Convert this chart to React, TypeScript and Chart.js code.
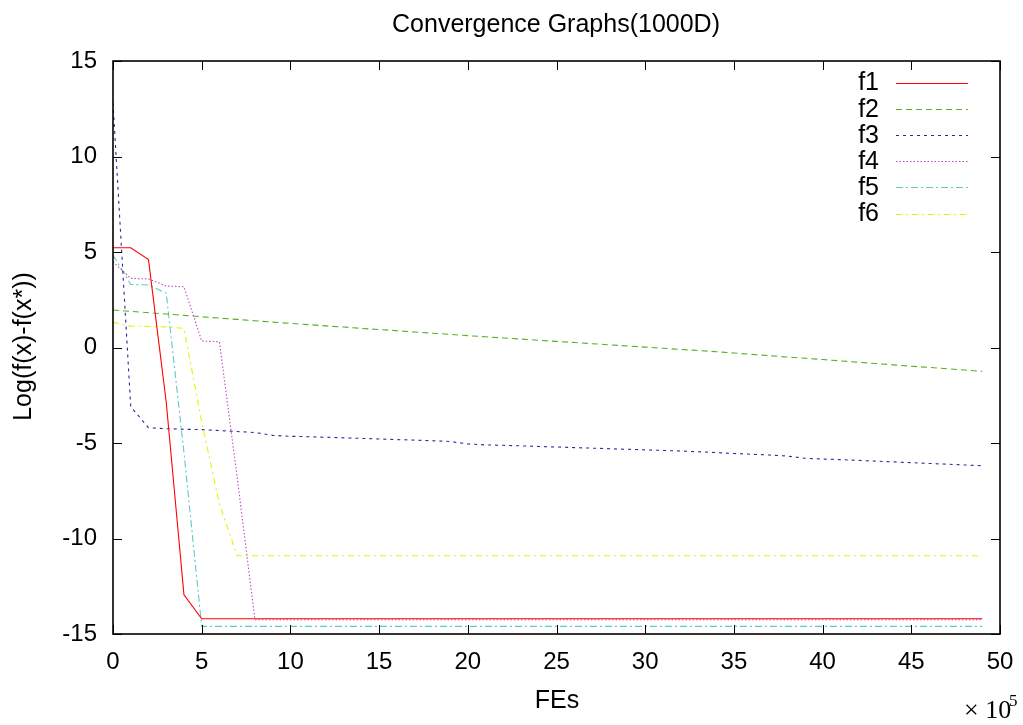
import React, { useEffect, useRef } from "react";
import { Chart, registerables } from "chart.js";

Chart.register(...registerables);

const FES = [
  0, 1, 2, 3, 4, 5, 6, 7, 8, 9,
  10, 11, 12, 13, 14, 15, 16, 17, 18, 19,
  20, 21, 22, 23, 24, 25, 26, 27, 28, 29,
  30, 31, 32, 33, 34, 35, 36, 37, 38, 39,
  40, 41, 42, 43, 44, 45, 46, 47, 48, 49,
];

const F1 = [
  5.22, 5.22, 4.6, -2.85, -12.95, -14.2, -14.2, -14.2, -14.2, -14.2,
  -14.2, -14.2, -14.2, -14.2, -14.2, -14.2, -14.2, -14.2, -14.2, -14.2,
  -14.2, -14.2, -14.2, -14.2, -14.2, -14.2, -14.2, -14.2, -14.2, -14.2,
  -14.2, -14.2, -14.2, -14.2, -14.2, -14.2, -14.2, -14.2, -14.2, -14.2,
  -14.2, -14.2, -14.2, -14.2, -14.2, -14.2, -14.2, -14.2, -14.2, -14.2,
];

const F2 = [
  1.96, 1.89, 1.82, 1.75, 1.68, 1.61, 1.54, 1.47, 1.4, 1.33,
  1.26, 1.2, 1.13, 1.07, 1.0, 0.94, 0.88, 0.81, 0.75, 0.69,
  0.62, 0.56, 0.5, 0.44, 0.38, 0.32, 0.26, 0.2, 0.14, 0.08,
  0.02, -0.04, -0.1, -0.16, -0.22, -0.29, -0.36, -0.43, -0.5, -0.56,
  -0.63, -0.7, -0.77, -0.84, -0.91, -0.98, -1.04, -1.11, -1.18, -1.25,
];

const F3 = [
  12.8, -3.1, -4.2, -4.25, -4.28, -4.3, -4.35, -4.4, -4.45, -4.6,
  -4.65, -4.67, -4.7, -4.73, -4.76, -4.79, -4.82, -4.85, -4.88, -4.92,
  -5.05, -5.1, -5.12, -5.15, -5.18, -5.21, -5.24, -5.27, -5.3, -5.33,
  -5.36, -5.39, -5.42, -5.46, -5.5, -5.55, -5.59, -5.63, -5.68, -5.8,
  -5.84, -5.87, -5.91, -5.95, -5.99, -6.03, -6.07, -6.11, -6.15, -6.19,
];

const F4 = [
  4.49, 3.62, 3.59, 3.22, 3.18, 0.34, 0.3, -6.8, -14.25, -14.25,
  -14.25, -14.25, -14.25, -14.25, -14.25, -14.25, -14.25, -14.25, -14.25, -14.25,
  -14.25, -14.25, -14.25, -14.25, -14.25, -14.25, -14.25, -14.25, -14.25, -14.25,
  -14.25, -14.25, -14.25, -14.25, -14.25, -14.25, -14.25, -14.25, -14.25, -14.25,
  -14.25, -14.25, -14.25, -14.25, -14.25, -14.25, -14.25, -14.25, -14.25, -14.25,
];

const F5 = [
  4.84, 3.3, 3.27, 2.85, -5.5, -14.6, -14.6, -14.6, -14.6, -14.6,
  -14.6, -14.6, -14.6, -14.6, -14.6, -14.6, -14.6, -14.6, -14.6, -14.6,
  -14.6, -14.6, -14.6, -14.6, -14.6, -14.6, -14.6, -14.6, -14.6, -14.6,
  -14.6, -14.6, -14.6, -14.6, -14.6, -14.6, -14.6, -14.6, -14.6, -14.6,
  -14.6, -14.6, -14.6, -14.6, -14.6, -14.6, -14.6, -14.6, -14.6, -14.6,
];

const F6 = [
  1.33, 1.12, 1.1, 1.08, 1.0, -3.9, -8.2, -10.9, -10.9, -10.9,
  -10.9, -10.9, -10.9, -10.9, -10.9, -10.9, -10.9, -10.9, -10.9, -10.9,
  -10.9, -10.9, -10.9, -10.9, -10.9, -10.9, -10.9, -10.9, -10.9, -10.9,
  -10.9, -10.9, -10.9, -10.9, -10.9, -10.9, -10.9, -10.9, -10.9, -10.9,
  -10.9, -10.9, -10.9, -10.9, -10.9, -10.9, -10.9, -10.9, -10.9, -10.9,
];

const SERIES_NAMES = ["f1", "f2", "f3", "f4", "f5", "f6"];
const SERIES_VALUES = [F1, F2, F3, F4, F5, F6];
const X_TICKS = [0, 5, 10, 15, 20, 25, 30, 35, 40, 45, 50];
const Y_TICKS = [-15, -10, -5, 0, 5, 10, 15];

const TITLE = "Convergence Graphs(1000D)";
const X_TITLE = "FEs";
const Y_TITLE = "Log(f(x)-f(x*))";

const COLORS = ["#ff0000", "#56b020", "#2a2a9c", "#c548c5", "#62c8c8", "#eeee00"];
const DASHES: number[][] = [[], [6, 4], [3, 4], [1.5, 2], [7, 3, 2, 3], [6, 4, 2, 4]];

const SANS = "'Liberation Sans', Arial, Helvetica, sans-serif";
const SERIF = "'Liberation Serif', 'Times New Roman', serif";

const decorPlugin = {
  id: "decor",
  afterDatasetsDraw(chart: any) {
    const { ctx, chartArea } = chart;
    const xs = chart.scales.x;
    const ys = chart.scales.y;
    const { left, right, top, bottom } = chartArea;
    ctx.save();
    // frame
    ctx.strokeStyle = "#000";
    ctx.lineWidth = 1.6;
    ctx.setLineDash([]);
    ctx.strokeRect(left, top, right - left, bottom - top);
    // inward ticks on all sides
    ctx.lineWidth = 1;
    const tl = 9;
    ctx.beginPath();
    X_TICKS.forEach((v) => {
      const px = Math.round(xs.getPixelForValue(v)) + 0.5;
      ctx.moveTo(px, bottom);
      ctx.lineTo(px, bottom - tl);
      ctx.moveTo(px, top);
      ctx.lineTo(px, top + tl);
    });
    Y_TICKS.forEach((v) => {
      const py = Math.round(ys.getPixelForValue(v)) + 0.5;
      ctx.moveTo(left, py);
      ctx.lineTo(left + tl, py);
      ctx.moveTo(right, py);
      ctx.lineTo(right - tl, py);
    });
    ctx.stroke();

    // legend
    ctx.font = `25px ${SANS}`;
    ctx.fillStyle = "#000";
    ctx.textAlign = "right";
    ctx.textBaseline = "middle";
    SERIES_NAMES.forEach((name, i) => {
      const y = 82.5 + i * 26.2;
      ctx.fillText(name, 879, y + 1);
      ctx.strokeStyle = COLORS[i];
      ctx.lineWidth = 1.1;
      ctx.setLineDash(DASHES[i]);
      ctx.beginPath();
      ctx.moveTo(896, Math.round(y) + 0.5);
      ctx.lineTo(968, Math.round(y) + 0.5);
      ctx.stroke();
    });
    ctx.setLineDash([]);

    // title
    ctx.textAlign = "center";
    ctx.textBaseline = "alphabetic";
    ctx.font = `25px ${SANS}`;
    ctx.fillText(TITLE, 556, 31.5);
    // x title
    ctx.fillText(X_TITLE, 557, 708);
    // y title
    ctx.save();
    ctx.translate(31, 346.5);
    ctx.rotate(-Math.PI / 2);
    ctx.fillText(Y_TITLE, 0, 0);
    ctx.restore();

    // x 10^5
    ctx.textAlign = "left";
    ctx.font = `26px ${SERIF}`;
    ctx.fillText("\u00d7 10", 964, 718);
    ctx.font = `17px ${SERIF}`;
    ctx.fillText("5", 1009, 706);
    ctx.restore();
  },
};

export default function App() {
  const canvasRef = useRef<HTMLCanvasElement | null>(null);

  useEffect(() => {
    document.body.style.margin = "0";
    const canvas = canvasRef.current;
    if (!canvas) return;
    Chart.defaults.font.family = SANS;
    const datasets = SERIES_VALUES.map((vals, i) => ({
      label: SERIES_NAMES[i],
      data: FES.map((x, j) => ({ x, y: vals[j] })),
      borderColor: COLORS[i],
      backgroundColor: COLORS[i],
      borderWidth: 1.1,
      borderDash: DASHES[i],
      pointRadius: 0,
      tension: 0,
      fill: false,
    }));
    const chart = new Chart(canvas, {
      type: "line",
      data: { datasets },
      options: {
        animation: false,
        responsive: true,
        maintainAspectRatio: false,
        layout: { padding: { top: 61, right: 23, left: 0, bottom: 0 } },
        plugins: {
          legend: { display: false },
          title: { display: false },
          tooltip: { enabled: false },
        },
        scales: {
          x: {
            type: "linear",
            min: 0,
            max: 50,
            grid: { display: false, drawTicks: false, tickLength: 0 },
            border: { display: false },
            ticks: {
              stepSize: 5,
              autoSkip: false,
              maxRotation: 0,
              padding: 14,
              color: "#000",
              font: { size: 24, family: SANS },
            },
            afterFit: (s: any) => {
              s.height = 91;
              s.paddingLeft = 0;
              s.paddingRight = 0;
            },
          },
          y: {
            type: "linear",
            min: -15,
            max: 15,
            grid: { display: false, drawTicks: false, tickLength: 0 },
            border: { display: false },
            ticks: {
              stepSize: 5,
              padding: 16,
              color: "#000",
              font: { size: 24, family: SANS },
            },
            afterFit: (s: any) => {
              s.width = 113;
              s.paddingTop = 0;
              s.paddingBottom = 0;
            },
          },
        },
      },
      plugins: [decorPlugin],
    });
    return () => chart.destroy();
  }, []);

  return (
    <div style={{ width: 1023, height: 725, position: "relative" }}>
      <canvas ref={canvasRef} />
    </div>
  );
}
